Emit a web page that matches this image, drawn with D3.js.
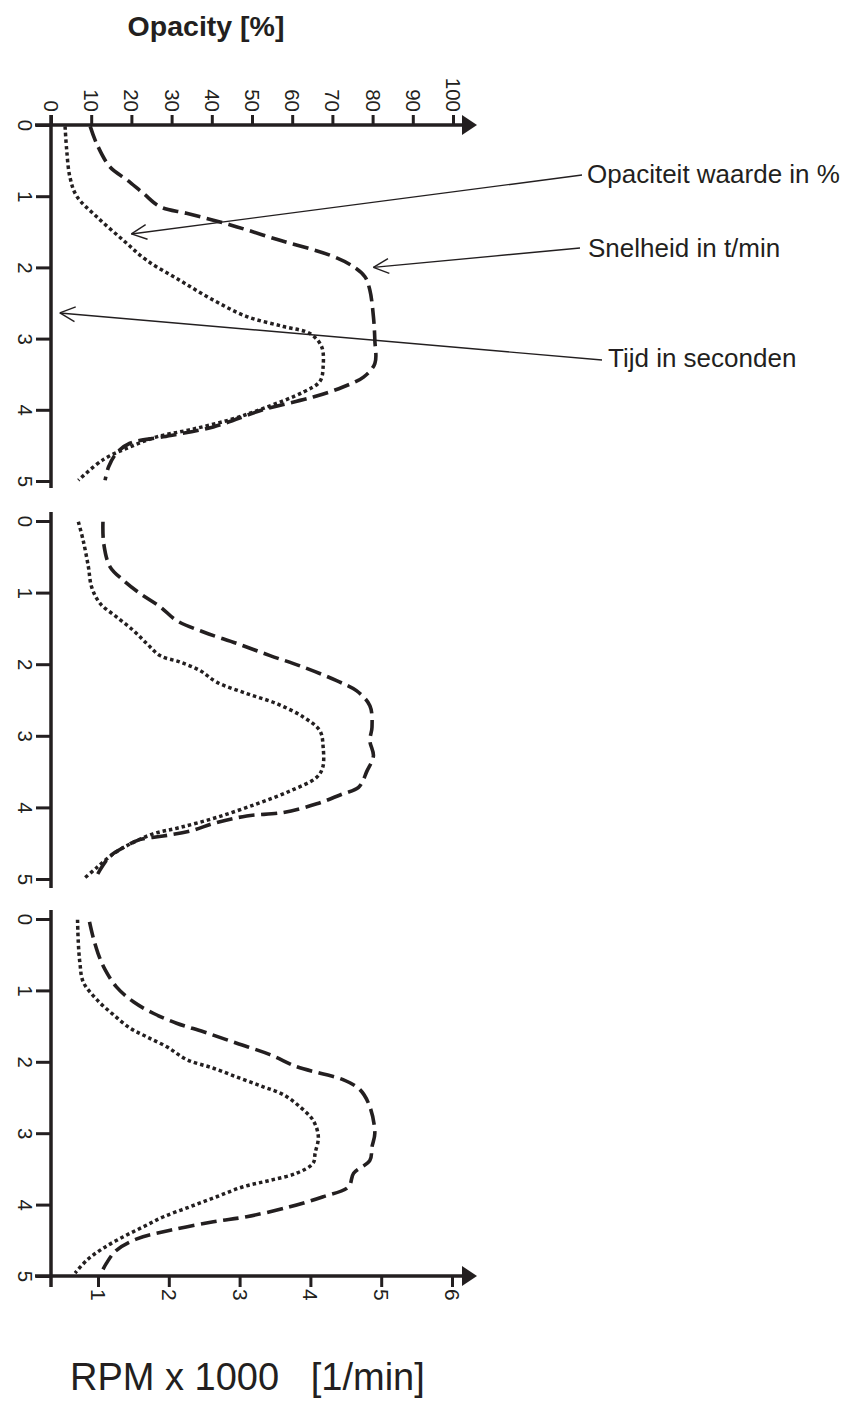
<!DOCTYPE html>
<html><head><meta charset="utf-8">
<script src="https://cdn.jsdelivr.net/npm/d3@7"></script>
<style>
body{margin:0;background:#fff}
svg{display:block}
text{font-family:"Liberation Sans",Arial,Helvetica,sans-serif;fill:#231f20}
</style>
</head><body>
<svg id="chart" width="853" height="1403"></svg>
<script>
// ---------- DATA ----------
const opacityTicks = [0,10,20,30,40,50,60,70,80,90,100];
const rpmTicks = [1,2,3,4,5,6];
const timeTicks = [0,1,2,3,4,5];
const topTitle = "Opacity [%]";
const bottomTitle = "RPM x 1000   [1/min]";
const annotationLabels = ["Opaciteit waarde in %", "Snelheid in t/min", "Tijd in seconden"];

// Panel 1 – opacity (%) vs time (s), speed (x1000 rpm) vs time (s)
const p1OpTime = [0.02,0.35,0.73,1.0,1.29,1.62,1.9,2.18,2.46,2.69,2.83,2.93,3.11,3.39,3.6,3.75,3.98,4.14,4.28,4.38,4.52,4.7,4.99];
const p1Opacity = [3.5,3.9,4.7,6.4,11.4,18,23.8,32,40.4,48.7,57.8,64.4,67.3,67.7,66.9,62.8,52.8,44.5,34.6,26.3,19.7,13,6.8];
const p1RpmTime = [0.02,0.26,0.59,0.77,0.96,1.15,1.24,1.4,1.62,1.83,1.99,2.13,2.32,2.69,3.02,3.35,3.54,3.68,3.82,4.0,4.24,4.38,4.47,4.61,4.8,4.99];
const p1Rpm = [0.89,0.98,1.17,1.41,1.64,1.88,2.25,2.86,3.57,4.28,4.61,4.77,4.84,4.89,4.91,4.91,4.75,4.46,4.04,3.33,2.63,1.92,1.45,1.26,1.15,1.10];

// Panel 2
const p2OpTime = [0.01,0.27,0.64,0.92,1.15,1.34,1.53,1.71,1.88,1.97,2.09,2.25,2.41,2.55,2.74,2.93,3.16,3.44,3.58,3.77,3.95,4.14,4.28,4.37,4.51,4.65,4.84,4.98];
const p2Opacity = [6.8,8.0,9.3,10.1,12.2,16.3,20.5,23.8,27.1,32.1,37.1,41.2,48.7,56.1,62.8,66.9,67.7,67.6,66.1,59.5,51.2,41.2,32.1,25.4,19.7,15.5,11.4,8.5];
const p2RpmTime = [0.01,0.31,0.64,0.83,1.01,1.2,1.39,1.55,1.71,1.88,2.04,2.23,2.37,2.58,2.88,3.07,3.28,3.49,3.72,3.81,3.95,4.07,4.12,4.21,4.33,4.4,4.45,4.56,4.68,4.84,4.96];
const p2Rpm = [1.07,1.08,1.17,1.36,1.59,1.88,2.11,2.49,2.96,3.43,3.9,4.37,4.65,4.84,4.87,4.84,4.89,4.8,4.68,4.46,4.09,3.62,3.1,2.68,2.3,1.92,1.59,1.36,1.17,1.05,0.98];

// Panel 3
const p3OpTime = [0.01,0.34,0.62,0.88,1.13,1.34,1.53,1.65,1.79,1.97,2.09,2.23,2.35,2.46,2.63,2.82,3.05,3.28,3.42,3.56,3.66,3.75,3.89,4.03,4.17,4.31,4.45,4.61,4.78,4.96];
const p3Opacity = [6.6,6.8,7.2,8.0,11.4,15.5,19.7,23.8,28.8,33.8,40.4,47.0,52.8,57.8,61.9,65.2,66.5,65.7,65.2,61.1,54.5,47.8,41.2,34.6,28,23,18,13,8.9,6.0];
const p3RpmTime = [0.04,0.25,0.48,0.71,0.95,1.16,1.32,1.46,1.58,1.74,1.9,2.07,2.16,2.25,2.39,2.63,3.0,3.19,3.38,3.56,3.75,3.89,4.03,4.17,4.24,4.36,4.48,4.64,4.82,4.99];
const p3Rpm = [0.88,0.93,1.0,1.1,1.26,1.5,1.78,2.11,2.49,2.96,3.43,3.81,4.14,4.46,4.7,4.84,4.91,4.87,4.84,4.61,4.54,4.18,3.71,3.1,2.63,2.02,1.55,1.26,1.12,1.03];

// annotation targets (panel 1 data coordinates)
const annOpacityTarget = {t:1.53, v:20};   // on dotted opacity curve
const annRpmTarget = {t:2.0, v:4.89};      // on dashed speed curve
const annTimeTarget = {t:2.64, v:2.2};     // on time axis

// ---------- LAYOUT ----------
const ink = "#231f20";
const svg = d3.select("#chart");

const xOp = d3.scaleLinear().domain([0,100]).range([51,453]);
const xRpm = d3.scaleLinear().domain([1,6]).range([98,452]);
const panels = [
  {y: d3.scaleLinear().domain([0,5]).range([125,481]), top:115, bottom:488,
   opT:p1OpTime, op:p1Opacity, rT:p1RpmTime, r:p1Rpm},
  {y: d3.scaleLinear().domain([0,5]).range([521,879]), top:512, bottom:888,
   opT:p2OpTime, op:p2Opacity, rT:p2RpmTime, r:p2Rpm},
  {y: d3.scaleLinear().domain([0,5]).range([919,1276]), top:910, bottom:1287,
   opT:p3OpTime, op:p3Opacity, rT:p3RpmTime, r:p3Rpm}
];
const axisX = xOp(0);

function arrowHead(x, y){
  svg.append("path").attr("d",`M${x+24},${y} L${x+9},${y-10} L${x+9},${y+10} Z`).attr("fill",ink);
}

// ---- top axis (opacity) ----
const topY = panels[0].y(0);
const gTop = svg.append("g").attr("transform",`translate(0,${topY})`)
  .call(d3.axisTop(xOp).tickValues(opacityTicks).tickSize(10).tickSizeOuter(0).tickFormat(d3.format("d")));
gTop.select(".domain").remove();
gTop.selectAll(".tick line").attr("stroke",ink).attr("stroke-width",3);
gTop.selectAll(".tick text").attr("font-size",20.5).attr("fill",ink)
  .attr("text-anchor","end").attr("dominant-baseline","central")
  .attr("transform","translate(0,-13) rotate(90)").attr("x",0).attr("y",0).attr("dy",null);
svg.append("line").attr("x1",axisX-16).attr("x2",xOp(100)+9).attr("y1",topY).attr("y2",topY)
  .attr("stroke",ink).attr("stroke-width",3.5);
arrowHead(xOp(100), topY);

// ---- panels ----
const lineOp = (p)=> d3.line().curve(d3.curveCatmullRom.alpha(0.5))
  .x((d,i)=>xOp(p.op[i])).y((d,i)=>p.y(p.opT[i]));
const lineRpm = (p)=> d3.line().curve(d3.curveCatmullRom.alpha(0.5))
  .x((d,i)=>xRpm(p.r[i])).y((d,i)=>p.y(p.rT[i]));

panels.forEach((p,k)=>{
  const g = svg.append("g").attr("transform",`translate(${axisX},0)`)
    .call(d3.axisLeft(p.y).tickValues(timeTicks).tickSize(15).tickSizeOuter(0).tickFormat(d3.format("d")));
  g.select(".domain").remove();
  g.selectAll(".tick line").attr("stroke",ink).attr("stroke-width",3);
  g.selectAll(".tick text").attr("font-size",20.5).attr("fill",ink)
    .attr("text-anchor","middle").attr("dominant-baseline","central")
    .attr("transform","translate(-26,0) rotate(90)").attr("x",0).attr("y",0).attr("dy",null);
  svg.append("line").attr("x1",axisX).attr("x2",axisX).attr("y1",p.top).attr("y2",p.bottom)
    .attr("stroke",ink).attr("stroke-width",3.5);

  svg.append("path").datum(p.op).attr("d",lineOp(p)).attr("fill","none")
    .attr("stroke",ink).attr("stroke-width",3.5).attr("stroke-dasharray","3.5,3");
  svg.append("path").datum(p.r).attr("d",lineRpm(p)).attr("fill","none")
    .attr("stroke",ink).attr("stroke-width",3.6).attr("stroke-dasharray","16,6.5");
});

// ---- bottom axis (rpm) ----
const botY = panels[2].y(5);
const gBot = svg.append("g").attr("transform",`translate(0,${botY})`)
  .call(d3.axisBottom(xRpm).tickValues(rpmTicks).tickSize(11).tickSizeOuter(0).tickFormat(d3.format("d")));
gBot.select(".domain").remove();
gBot.selectAll(".tick line").attr("stroke",ink).attr("stroke-width",3);
gBot.selectAll(".tick text").attr("font-size",21).attr("fill",ink)
  .attr("text-anchor","start").attr("dominant-baseline","central")
  .attr("transform","translate(0,13) rotate(90)").attr("x",0).attr("y",0).attr("dy",null);
svg.append("line").attr("x1",axisX-16).attr("x2",xOp(100)+9).attr("y1",botY).attr("y2",botY)
  .attr("stroke",ink).attr("stroke-width",3.5);
arrowHead(xOp(100), botY);

// ---- titles ----
svg.append("text").attr("x",206).attr("y",36).attr("text-anchor","middle")
  .attr("font-size",28.5).attr("font-weight","bold").text(topTitle);
svg.append("text").attr("x",70).attr("y",1390).attr("font-size",38)
  .style("white-space","pre").text(bottomTitle);

// ---- annotations ----
const P1 = panels[0];
const anns = [
  {label:annotationLabels[0], tx:587, ty:183, lx:582, ly:175, ax:xOp(annOpacityTarget.v), ay:P1.y(annOpacityTarget.t)},
  {label:annotationLabels[1], tx:588, ty:257, lx:580, ly:248, ax:xRpm(annRpmTarget.v), ay:P1.y(annRpmTarget.t)},
  {label:annotationLabels[2], tx:608, ty:367, lx:602, ly:360, ax:xOp(annTimeTarget.v), ay:P1.y(annTimeTarget.t)}
];
anns.forEach(a=>{
  svg.append("line").attr("x1",a.lx).attr("y1",a.ly).attr("x2",a.ax).attr("y2",a.ay)
    .attr("stroke",ink).attr("stroke-width",1.4);
  const ang = Math.atan2(a.ly-a.ay, a.lx-a.ax);
  const L = 17, s = 0.45;
  [ang+s, ang-s].forEach(b=>{
    svg.append("line").attr("x1",a.ax).attr("y1",a.ay)
      .attr("x2",a.ax+L*Math.cos(b)).attr("y2",a.ay+L*Math.sin(b))
      .attr("stroke",ink).attr("stroke-width",1.4);
  });
  svg.append("text").attr("x",a.tx).attr("y",a.ty).attr("font-size",26).text(a.label);
});
</script>
</body></html>
